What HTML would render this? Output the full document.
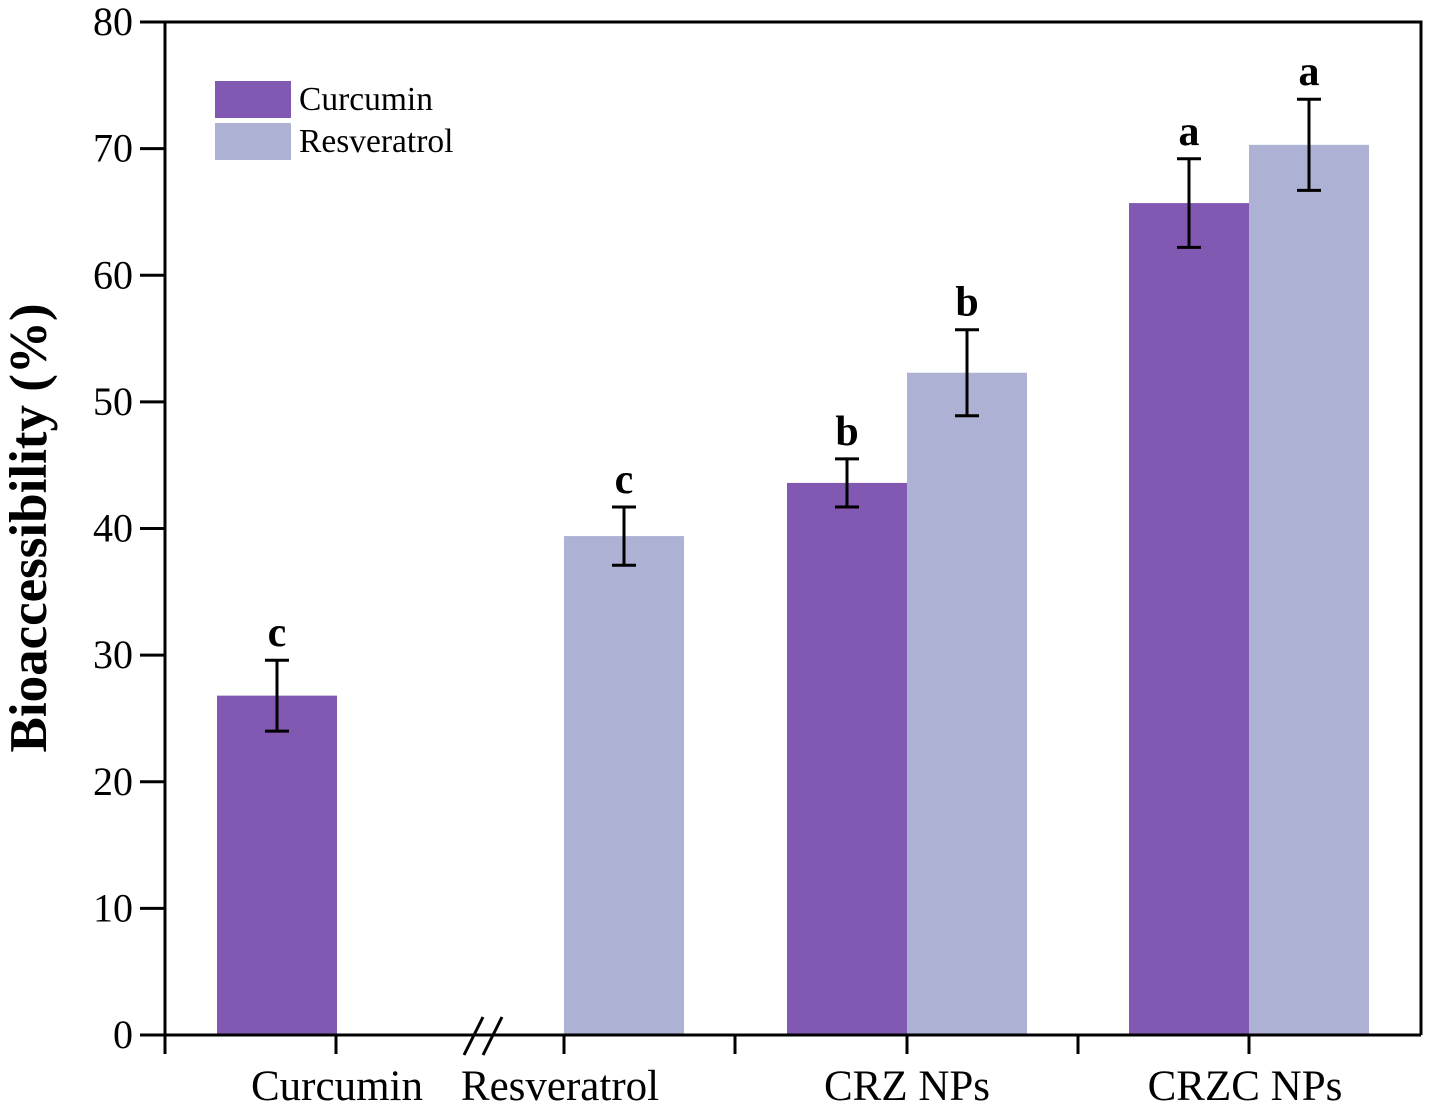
<!DOCTYPE html>
<html><head><meta charset="utf-8"><style>
html,body{margin:0;padding:0;background:#fff}
svg{display:block;font-family:"Liberation Serif",serif}
</style></head><body>
<svg id="chart" width="1429" height="1109" viewBox="0 0 1429 1109"></svg>
<script>
const categories = ["Curcumin","Resveratrol","CRZ NPs","CRZC NPs"];
const curcuminValues = [26.8, null, 43.6, 65.7];
const curcuminErrors = [2.8, null, 1.9, 3.5];
const curcuminLetters = ["c", null, "b", "a"];
const resveratrolValues = [null, 39.4, 52.3, 70.3];
const resveratrolErrors = [null, 2.3, 3.4, 3.6];
const resveratrolLetters = [null, "c", "b", "a"];
const yTicks = [0,10,20,30,40,50,60,70,80];

const NS="http://www.w3.org/2000/svg";
const svg=document.getElementById('chart');
const L=165,R=1421,T=22,B=1035,yMax=80;
const y=v=>B-(v/yMax)*(B-T);
const catCenter=[336,564,907,1249];
const barW=120;
function mk(tag,attrs,parent){const e=document.createElementNS(NS,tag);for(const k in attrs)e.setAttribute(k,attrs[k]);(parent||svg).appendChild(e);return e;}

function drawSeries(vals,errs,letters,color,name,side,i){
  const v=vals[i]; if(v==null) return;
  let x;
  const single=(curcuminValues[i]==null||resveratrolValues[i]==null);
  if(single){x = (i===0)? 217 : catCenter[i];}
  else x = side<0 ? catCenter[i]-barW : catCenter[i];
  const r=mk('rect',{x:x,y:y(v),width:barW,height:B-y(v),fill:color});
  
  
  const cx=x+barW/2, e=errs[i];
  const g=mk('g',{stroke:'#000','stroke-width':3});
  
  
  mk('line',{x1:cx,x2:cx,y1:y(v+e),y2:y(v-e)},g);
  mk('line',{x1:cx-12,x2:cx+12,y1:y(v+e),y2:y(v+e)},g);
  mk('line',{x1:cx-12,x2:cx+12,y1:y(v-e),y2:y(v-e)},g);
  const t=mk('text',{x:cx,y:y(v+e)-14,'text-anchor':'middle','font-size':42,'font-weight':'bold'});
  t.textContent=letters[i];
  
  
}
for(let i=0;i<categories.length;i++){
  drawSeries(curcuminValues,curcuminErrors,curcuminLetters,'#8158b2','curcumin',-1,i);
  drawSeries(resveratrolValues,resveratrolErrors,resveratrolLetters,'#adb1d3','resveratrol',1,i);
}
const fr=mk('path',{d:`M${L},${T} H${R} V${B} M${L},${T} V1054 M140,${B} H${R}`,fill:'none',stroke:'#000','stroke-width':3});


yTicks.forEach(v=>{
  mk('line',{x1:140,x2:L,y1:y(v),y2:y(v),stroke:'#000','stroke-width':3});
  const t=mk('text',{x:133,y:y(v)+13,'text-anchor':'end','font-size':40});
  t.textContent=v;
  
  
});
[336,564,735,907,1078,1249].forEach(px=>mk('line',{x1:px,x2:px,y1:B,y2:1054,stroke:'#000','stroke-width':3}));
const labelX=[337,560,907,1245];
categories.forEach((c,i)=>{
  const t=mk('text',{x:labelX[i],y:1100,'text-anchor':'middle','font-size':43});
  t.textContent=c;
  
  
});
const br=mk('path',{d:'M464,1055 L483,1017 M483,1055 L502,1017',stroke:'#000','stroke-width':3,fill:'none'});


const yt=mk('text',{x:0,y:0,transform:'translate(46,528) rotate(-90)','text-anchor':'middle','font-size':53,'font-weight':'bold'});
yt.textContent='Bioaccessibility (%)';


[['Curcumin','#8158b2',81],['Resveratrol','#adb1d3',123]].forEach(([n,c,yy])=>{
  const g=mk('g',{});
  
  
  mk('rect',{x:215,y:yy,width:76,height:37,fill:c},g);
  const t=mk('text',{x:299,y:yy+29,'font-size':33.5},g);t.textContent=n;
});
</script>
</body></html>
